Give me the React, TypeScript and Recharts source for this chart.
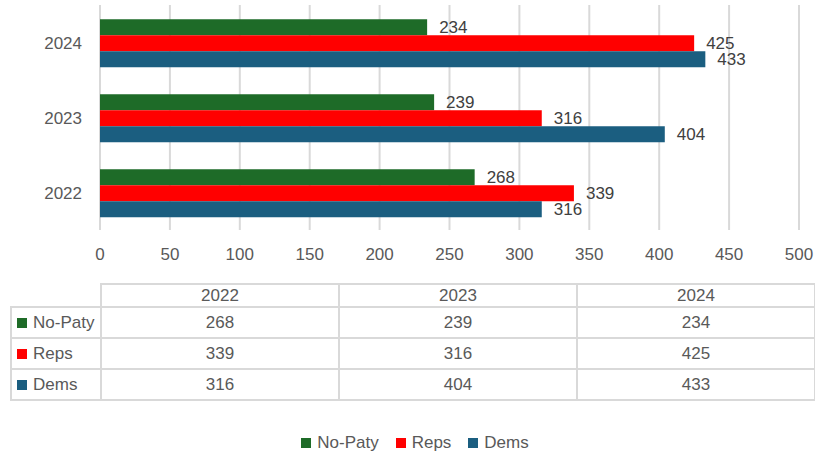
import { BarChart, Bar, XAxis, YAxis, CartesianGrid, LabelList, Legend } from "recharts";

const years = ["2022", "2023", "2024"];
const noPaty = [268, 239, 234];
const reps = [339, 316, 425];
const dems = [316, 404, 433];
const xTicks = [0, 50, 100, 150, 200, 250, 300, 350, 400, 450, 500];

const series = [
  { key: "noPaty", name: "No-Paty", color: "#1e6b28", values: noPaty },
  { key: "reps", name: "Reps", color: "#ff0000", values: reps },
  { key: "dems", name: "Dems", color: "#1b5e80", values: dems },
];

// top-to-bottom order on the chart: 2024, 2023, 2022
const rows = years
  .map((year, i) => ({ year, noPaty: noPaty[i], reps: reps[i], dems: dems[i] }))
  .reverse();

const font = "'Liberation Sans', Arial, sans-serif";
const textColor = "#595959";
const border = "2px solid #d9d9d9";

const Swatch = ({ color }: { color: string }) => (
  <span
    style={{
      display: "inline-block",
      width: 10,
      height: 10,
      background: color,
      marginRight: 6,
    }}
  />
);

const DataTable = () => (
  <table
    style={{
      position: "absolute",
      left: 10,
      top: 283,
      width: 804,
      borderCollapse: "collapse",
      tableLayout: "fixed",
      fontFamily: font,
      fontSize: 17,
      color: textColor,
    }}
  >
    <colgroup>
      <col style={{ width: 90 }} />
      {years.map((y) => (
        <col key={y} style={{ width: 238 }} />
      ))}
    </colgroup>
    <tbody>
      <tr style={{ height: 23 }}>
        <td style={{ padding: 0 }} />
        {years.map((y) => (
          <td key={y} style={{ border, textAlign: "center", padding: 0 }}>
            {y}
          </td>
        ))}
      </tr>
      {series.map((s) => (
        <tr key={s.key} style={{ height: 31 }}>
          <td style={{ border, padding: "0 0 0 5px", whiteSpace: "nowrap" }}>
            <Swatch color={s.color} />
            {s.name}
          </td>
          {s.values.map((v, i) => (
            <td key={i} style={{ border, textAlign: "center", padding: 0 }}>
              {v}
            </td>
          ))}
        </tr>
      ))}
    </tbody>
  </table>
);

const LegendContent = () => (
  <div
    style={{
      display: "flex",
      justifyContent: "center",
      gap: 17,
      fontFamily: font,
      fontSize: 17,
      color: textColor,
    }}
  >
    {series.map((s) => (
      <span key={s.key} style={{ display: "inline-flex", alignItems: "center" }}>
        <Swatch color={s.color} />
        {s.name}
      </span>
    ))}
  </div>
);

export default function App() {
  return (
    <div
      style={{
        position: "absolute",
        left: 0,
        top: 0,
        width: 815,
        height: 456,
        background: "#fff",
        fontFamily: font,
      }}
    >
      <BarChart
        width={815}
        height={456}
        data={rows}
        layout="vertical"
        margin={{ top: 5, right: 16, left: 0, bottom: 186 }}
        barCategoryGap="19%"
        barGap={0}
      >
        <CartesianGrid horizontal={false} stroke="#d9d9d9" strokeWidth={2} />
        <XAxis
          type="number"
          domain={[0, 500]}
          ticks={xTicks}
          axisLine={false}
          tickLine={false}
          tickMargin={12}
          height={40}
          tick={{ fill: textColor, fontSize: 17 }}
        />
        <YAxis
          type="category"
          dataKey="year"
          width={100}
          axisLine={false}
          tickLine={false}
          tickMargin={12}
          tick={{ fill: textColor, fontSize: 17 }}
        />
        {series.map((s) => (
          <Bar key={s.key} dataKey={s.key} name={s.name} fill={s.color} isAnimationActive={false}>
            <LabelList dataKey={s.key} position="right" offset={12} fill="#404040" fontSize={17} />
          </Bar>
        ))}
        <Legend
          verticalAlign="middle"
          align="center"
          wrapperStyle={{ top: 433, left: 15, width: 800 }}
          content={() => <LegendContent />}
        />
      </BarChart>
      <DataTable />
    </div>
  );
}
